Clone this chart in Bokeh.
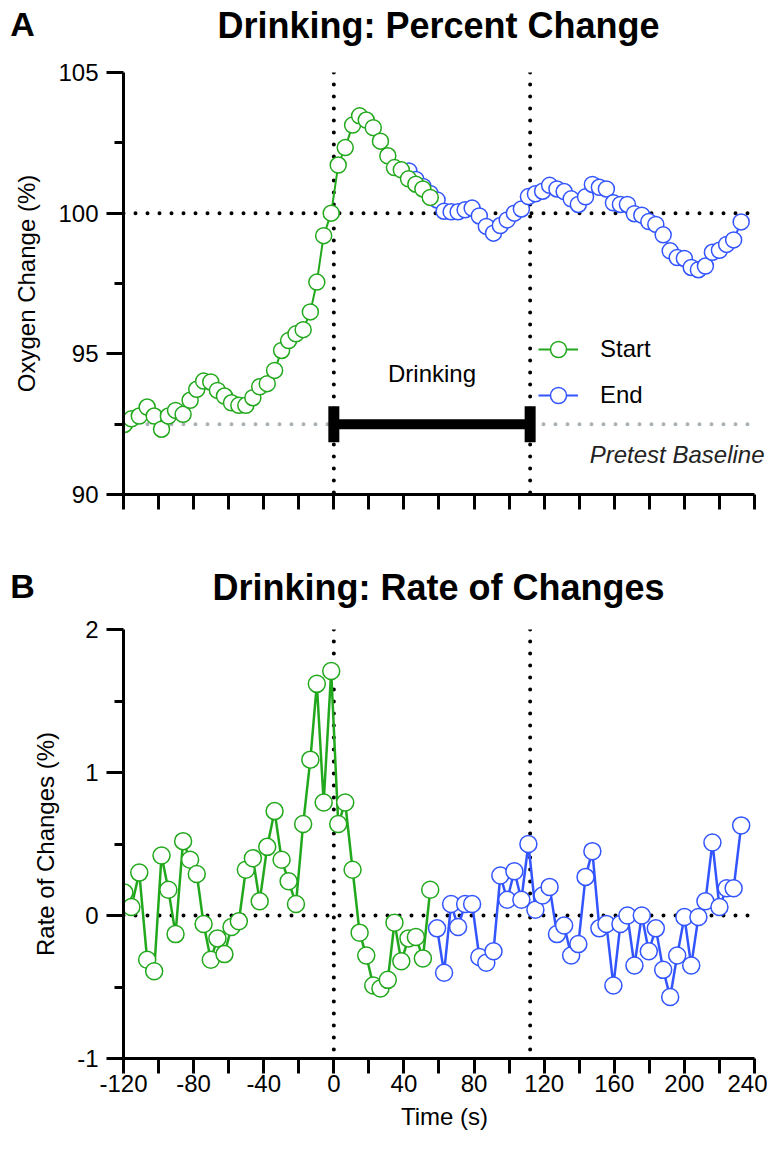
from bokeh.plotting import figure
from bokeh.models import (Range1d, FixedTicker, Span, Label, Legend, LegendItem,
                          CustomJSTickFormatter)
from bokeh.core.properties import value
from bokeh.layouts import column
from bokeh.embed import file_html
from bokeh.resources import INLINE

# ---------------- data ----------------
green_t = [-119.5, -115.5, -111.0, -106.5, -102.5, -98.3, -94.4, -90.3, -86.0, -82.0,
           -78.2, -74.3, -70.2, -66.4, -62.4, -58.4, -54.2, -50.2, -46.2, -42.3,
           -38.0, -33.8, -29.8, -25.8, -21.6, -17.5, -13.4, -9.7, -5.8, -1.5,
           2.5, 6.5, 10.7, 14.7, 18.5, 22.5, 26.6, 30.8, 34.6, 38.5,
           42.6, 46.8, 50.8, 55.0]
green_pct = [92.49, 92.69, 92.79, 93.11, 92.79, 92.32, 92.79, 92.99, 92.85, 93.35,
             93.74, 94.03, 94.00, 93.70, 93.50, 93.26, 93.17, 93.17, 93.44, 93.83,
             93.94, 94.41, 95.12, 95.47, 95.71, 95.86, 96.49, 97.55, 99.20, 100.0,
             101.71, 102.33, 103.13, 103.46, 103.31, 103.04, 102.56, 102.04, 101.62, 101.54,
             101.22, 101.03, 100.86, 100.56]
green_rate = [0.16, 0.06, 0.30, -0.31, -0.39, 0.42, 0.18, -0.13, 0.52, 0.39,
              0.29, -0.06, -0.31, -0.16, -0.27, -0.08, -0.04, 0.32, 0.40, 0.10,
              0.48, 0.73, 0.39, 0.24, 0.08, 0.64, 1.09, 1.62, 0.79, 1.71,
              0.64, 0.79, 0.32, -0.12, -0.28, -0.49, -0.51, -0.45, -0.05, -0.32,
              -0.16, -0.15, -0.30, 0.18]

blue_t_pct = [42.8, 46.8, 50.9, 54.9,
              58.9, 62.9, 66.9, 70.9, 74.9, 78.9, 83.0, 87.0, 91.1, 95.0,
              98.9, 103.0, 107.0, 111.0, 115.0, 119.1, 123.1, 127.3, 131.4, 135.4,
              139.5, 143.6, 147.5, 151.5, 155.5, 159.5, 163.5, 167.5, 171.5, 175.7,
              179.7, 183.7, 187.9, 191.9, 195.9, 200.0, 203.9, 208.0, 212.0, 216.0,
              220.0, 224.1, 228.1, 232.4]
blue_pct = [101.5, 101.2, 100.95, 100.7,
            100.47, 100.07, 100.05, 100.05, 100.12, 100.18, 99.90, 99.53, 99.29, 99.56,
            99.76, 100.0, 100.15, 100.59, 100.69, 100.78, 100.99, 100.86, 100.77, 100.51,
            100.31, 100.58, 101.02, 100.92, 100.86, 100.37, 100.31, 100.31, 99.98, 99.93,
            99.70, 99.60, 99.23, 98.66, 98.42, 98.39, 98.07, 97.99, 98.12, 98.61,
            98.68, 98.89, 99.05, 99.69]
blue_t_rate = [58.9, 62.9, 66.9, 70.9, 74.9, 78.9, 83.0, 87.0, 91.1, 95.0,
               98.9, 103.0, 107.0, 111.0, 115.0, 119.1, 123.1, 127.3, 131.4, 135.4,
               139.5, 143.6, 147.5, 151.5, 155.5, 159.5, 163.5, 167.5, 171.5, 175.7,
               179.7, 183.7, 187.9, 191.9, 195.9, 200.0, 203.9, 208.0, 212.0, 216.0,
               220.0, 224.1, 228.1, 232.4]
blue_rate = [-0.09, -0.40, 0.08, -0.08, 0.08, 0.08, -0.29, -0.33, -0.25, 0.28,
             0.11, 0.31, 0.11, 0.50, 0.04, 0.14, 0.20, -0.13, -0.07, -0.28,
             -0.20, 0.27, 0.45, -0.09, -0.06, -0.49, -0.06, 0.00, -0.35, 0.00,
             -0.25, -0.09, -0.38, -0.57, -0.28, -0.01, -0.35, -0.01, 0.10, 0.51,
             0.06, 0.19, 0.19, 0.63]

drinking_period = [0, 112]
pretest_baseline = 92.5
pct_reference = 100
rate_reference = 0

x_ticks = [-120, -80, -40, 0, 40, 80, 120, 160, 200, 240]
x_tick_labels = ["-120", "-80", "-40", "0", "40", "80", "120", "160", "200", "240"]
x_minor = [-100, -60, -20, 20, 60, 100, 140, 180, 220]
yA_ticks = [90, 95, 100, 105]
yA_labels = ["90", "95", "100", "105"]
yA_minor = [92.5, 97.5, 102.5]
yB_ticks = [-1, 0, 1, 2]
yB_labels = ["-1", "0", "1", "2"]
yB_minor = [-0.5, 0.5, 1.5]

# ---------------- style ----------------
FONT = "Liberation Sans"
GREEN = "#22a81c"
BLUE = "#3355ff"
GRAY = "#a9b2b6"
TICK_FS = "24px"
LAB_FS = "24px"
W = 767
X_END = 240 + 11 / 1.7527  # a little room on the right for the baseline caption


def header(h, letter, title):
    p = figure(width=W, height=h, x_range=Range1d(0, W), y_range=Range1d(h, 0),
               x_axis_type=None, y_axis_type=None, output_backend="svg",
               toolbar_location=None, min_border=0, min_border_left=0,
               min_border_right=0, min_border_top=0, min_border_bottom=0,
               frame_align=False)
    p.grid.visible = False
    p.outline_line_color = None
    p.text(x=[22], y=[h / 2 - 2], text=[letter], text_font=value(FONT),
           text_font_style="bold", text_font_size="34px", text_align="center",
           text_baseline="middle", text_color="black")
    p.text(x=[438], y=[h / 2], text=[title], text_font=value(FONT),
           text_font_style="bold", text_font_size="36px", text_align="center",
           text_baseline="middle", text_color="black")
    return p


def style(p, yticks, ylabels, yminor, ylabel, show_x_labels):
    p.grid.visible = False
    p.outline_line_color = None
    p.background_fill_color = "white"
    p.border_fill_color = "white"
    for ax in (p.xaxis[0], p.yaxis[0]):
        ax.axis_line_width = 3
        ax.axis_line_color = "black"
        ax.major_tick_line_width = 3
        ax.minor_tick_line_width = 3
        ax.major_tick_line_color = "black"
        ax.minor_tick_line_color = "black"
        ax.major_tick_in = 0
        ax.minor_tick_in = 0
        ax.major_label_text_font = FONT
        ax.major_label_text_color = "black"
        ax.axis_label_text_font = FONT
        ax.axis_label_text_font_style = "normal"
        ax.axis_label_text_color = "black"
    xa = p.xaxis[0]
    xa.bounds = (x_ticks[0], x_ticks[-1])
    xa.ticker = FixedTicker(ticks=x_ticks, minor_ticks=x_minor)
    xa.major_tick_out = 15
    xa.minor_tick_out = 15
    if show_x_labels:
        xa.major_label_overrides = dict(zip(x_ticks, x_tick_labels))
        xa.major_label_text_font_size = TICK_FS
        xa.major_label_standoff = 1
        xa.axis_label = "Time (s)"
        xa.axis_label_text_font_size = LAB_FS
        xa.axis_label_standoff = 8
    else:
        xa.formatter = CustomJSTickFormatter(code="return ''")
    ya = p.yaxis[0]
    ya.ticker = FixedTicker(ticks=yticks, minor_ticks=yminor)
    ya.major_tick_out = 17
    ya.minor_tick_out = 9
    ya.major_label_overrides = dict(zip(yticks, ylabels))
    ya.major_label_text_font_size = TICK_FS
    ya.major_label_standoff = 8
    ya.axis_label = ylabel
    ya.axis_label_text_font_size = LAB_FS
    ya.axis_label_standoff = 15


def hdotted(p, yv, color="black"):
    p.segment(x0=[x_ticks[0]], x1=[x_ticks[-1]], y0=[yv], y1=[yv], line_color=color,
              line_width=4, line_dash="0 12", line_cap="round")


def vdotted(xv):
    return Span(location=xv, dimension="height", line_color="black", line_width=4,
                line_dash="0 12", line_cap="round", level="underlay")


# ---------------- panel A ----------------
hA = header(50, "A", "Drinking: Percent Change")
pA = figure(width=W, height=512, x_range=Range1d(-120, X_END), y_range=Range1d(90, 105),
            output_backend="svg", toolbar_location=None,
            min_border_left=123, min_border_right=2, min_border_top=22, min_border_bottom=68)
style(pA, yA_ticks, yA_labels, yA_minor, "Oxygen Change (%)", False)

hdotted(pA, pretest_baseline, GRAY)
hdotted(pA, pct_reference)
for xv in drinking_period:
    pA.add_layout(vdotted(xv))

# drinking bar
pA.segment(x0=[drinking_period[0]], y0=[pretest_baseline], x1=[drinking_period[1]],
           y1=[pretest_baseline], line_color="black", line_width=10)
pA.rect(x=drinking_period, y=[pretest_baseline] * 2, width=11, height=36,
        width_units="screen", height_units="screen", fill_color="black", line_color=None)

bl = pA.line(blue_t_pct, blue_pct, line_color=BLUE, line_width=2)
bc = pA.scatter(blue_t_pct, blue_pct, size=16, fill_color="white", line_color=BLUE, line_width=1.5)
gl = pA.line(green_t, green_pct, line_color=GREEN, line_width=2)
gc = pA.scatter(green_t, green_pct, size=16, fill_color="white", line_color=GREEN, line_width=1.5)

legend = Legend(items=[LegendItem(label="Start", renderers=[gl, gc]),
                       LegendItem(label="End", renderers=[bl, bc])],
                location=(415, 76), glyph_width=40, glyph_height=46, spacing=0,
                padding=0, margin=0, label_standoff=22, label_text_font=FONT,
                label_text_font_size=LAB_FS, label_text_color="black",
                border_line_color=None, background_fill_alpha=0)
pA.add_layout(legend)

pA.add_layout(Label(x=(drinking_period[0] + drinking_period[1]) / 2, y=pretest_baseline,
                    y_offset=51, text="Drinking", text_align="center", text_baseline="middle",
                    text_font=FONT, text_font_size=LAB_FS, text_color="black"))
pA.add_layout(Label(x=X_END, y=pretest_baseline, x_offset=-1, y_offset=-30, text="Pretest Baseline",
                    text_align="right", text_baseline="middle", text_font=FONT,
                    text_font_style="italic", text_font_size=LAB_FS, text_color="#222222"))

# ---------------- panel B ----------------
hB = header(50, "B", "Drinking: Rate of Changes")
pB = figure(width=W, height=536, x_range=Range1d(-120, X_END), y_range=Range1d(-1, 2),
            output_backend="svg", toolbar_location=None,
            min_border_left=123, min_border_right=2, min_border_top=17, min_border_bottom=90)
style(pB, yB_ticks, yB_labels, yB_minor, "Rate of Changes (%)", True)

hdotted(pB, rate_reference)
for xv in drinking_period:
    pB.add_layout(vdotted(xv))

pB.line(blue_t_rate, blue_rate, line_color=BLUE, line_width=2.5)
pB.scatter(blue_t_rate, blue_rate, size=17, fill_color="white", line_color=BLUE, line_width=1.5)
pB.line(green_t, green_rate, line_color=GREEN, line_width=2.5)
pB.scatter(green_t, green_rate, size=17, fill_color="white", line_color=GREEN, line_width=1.5)

layout = column(hA, pA, hB, pB, spacing=0)
open("out.html", "w").write(file_html(layout, INLINE))
